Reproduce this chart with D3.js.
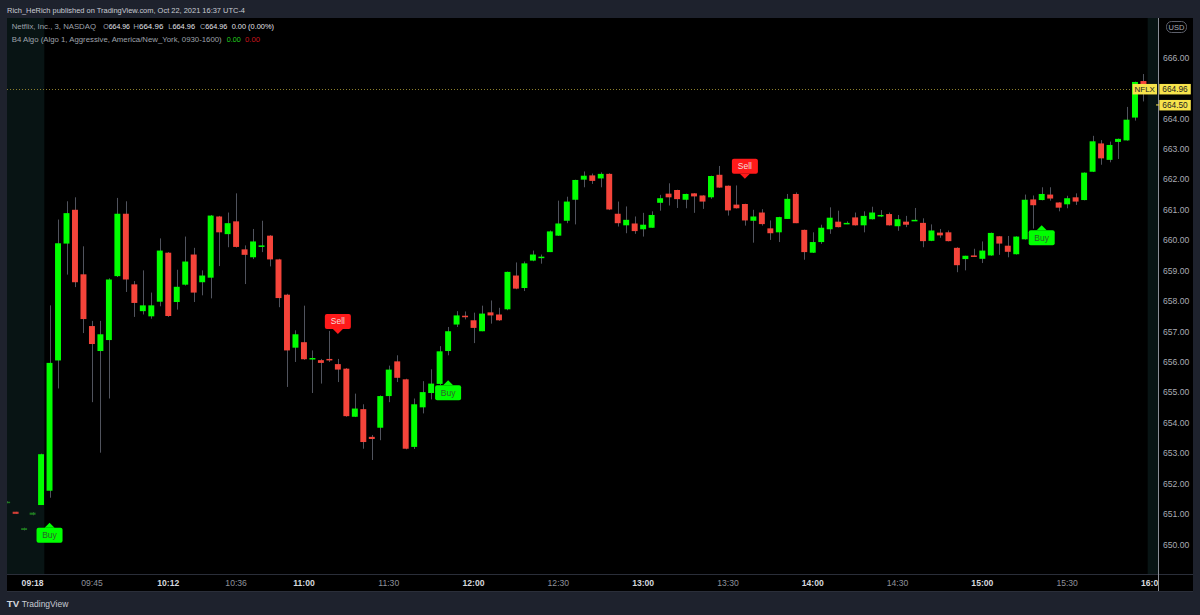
<!DOCTYPE html>
<html><head><meta charset="utf-8">
<script src="https://cdn.jsdelivr.net/npm/d3@7"></script>
<style>body{margin:0;background:#1e222d;}svg{display:block}</style>
</head><body><svg id="c" width="1200" height="615"></svg>
<script>
// ---------- DATA ----------
const premarketTimes = ["08:54","09:06","09:12","09:18","09:27"];
const regularTimes = [];
for (let m = 570; m < 960; m += 3) regularTimes.push(String(Math.floor(m/60)).padStart(2,"0") + ":" + String(m%60).padStart(2,"0"));
const postTimes = ["16:00"];
const times = premarketTimes.concat(regularTimes, postTimes);

const open = [651.37,651.07,650.47,650.97,651.29,
651.76,656.04,659.88,660.99,658.87,657.17,656.35,656.71,658.81,660.86,
658.54,657.66,657.49,657.97,659.58,657.96,658.53,659.52,658.61,658.76,
660.77,660.19,660.61,659.69,659.43,659.77,660.14,659.36,658.20,656.46,
656.64,656.09,656.05,656.09,655.92,655.77,654.19,654.44,653.53,653.83,
654.87,656.01,655.42,653.20,654.50,654.97,655.27,656.35,657.22,657.51,
657.36,657.00,657.62,657.55,657.72,658.83,658.42,659.32,659.43,659.60,
660.14,660.63,661.32,661.98,662.12,662.02,662.17,660.86,660.48,660.54,
660.35,660.40,661.22,661.52,661.64,661.32,661.53,661.46,661.40,662.14,
661.78,661.16,661.18,660.63,660.90,660.38,660.25,660.69,661.51,660.33,
659.58,659.93,660.35,660.60,660.53,660.74,660.48,660.68,660.77,660.85,
660.45,660.60,660.62,660.56,659.97,660.24,660.25,659.74,659.37,659.49,
659.38,659.49,660.12,659.81,659.53,660.02,661.33,661.31,661.49,661.23,
661.17,661.40,661.31,662.24,663.17,662.63,663.22,663.27,664.02,665.22,
664.96];
const high = [651.42,651.07,650.55,651.06,652.98,
657.85,660.67,661.27,661.40,659.79,657.34,657.34,658.74,661.38,661.27,
658.65,659.00,658.27,660.05,659.60,659.02,660.11,659.74,659.00,660.82,
660.79,660.90,661.53,659.82,660.36,660.63,660.16,659.38,658.23,657.03,
657.84,656.37,656.09,657.01,656.09,655.79,654.95,654.60,653.59,654.89,
655.87,656.21,655.44,654.79,655.36,655.75,656.51,657.14,657.66,657.65,
657.61,657.84,658.01,657.77,658.96,659.26,659.29,659.65,659.52,660.31,
661.29,661.42,661.98,662.25,662.18,662.22,662.19,661.26,661.10,660.77,
660.89,660.94,661.48,661.86,661.65,661.52,661.54,661.47,662.11,662.43,
661.79,661.79,661.19,660.99,661.01,660.64,660.76,661.51,661.56,660.34,
660.25,660.50,661.07,660.96,660.61,660.90,660.94,661.09,660.98,660.90,
660.82,660.79,661.05,660.71,660.51,660.36,660.31,659.76,659.48,659.71,
659.95,660.24,660.13,660.13,660.12,661.49,661.46,661.73,661.73,661.24,
661.45,661.53,662.22,663.42,663.28,663.23,663.33,664.37,665.20,665.45,
664.96];
const low = [651.35,651.00,650.45,650.95,651.29,
651.53,655.12,658.86,658.45,656.94,654.67,653.01,654.79,658.78,658.29,
657.47,657.55,657.41,657.82,657.47,657.71,658.50,657.96,658.18,658.08,
659.14,659.76,659.75,658.55,659.37,659.60,659.13,657.79,655.17,655.99,
656.06,654.97,655.28,655.99,655.33,654.19,654.18,653.14,652.77,653.42,
654.67,655.33,653.12,653.13,654.30,654.76,655.23,656.21,657.14,657.39,
656.61,657.00,657.25,657.34,657.69,658.38,658.32,659.30,659.22,659.60,
660.13,660.55,660.51,661.73,661.84,661.73,660.98,660.44,660.22,660.20,
660.11,660.40,660.96,661.13,661.05,661.04,660.89,661.02,661.35,661.71,
660.80,661.03,660.47,659.91,660.47,660.00,659.93,660.69,660.55,659.35,
659.57,659.87,660.20,660.41,660.52,660.47,660.25,660.67,660.75,660.47,
660.30,660.42,660.62,659.76,659.96,660.07,659.95,658.94,659.00,659.44,
659.24,659.48,659.51,659.43,659.52,660.01,660.37,661.30,661.29,660.94,
661.04,661.15,661.30,662.23,662.47,662.55,662.66,663.26,663.92,664.55,
664.96];
const close = [651.40,651.00,650.53,651.04,652.96,
655.96,659.89,660.88,658.61,657.40,656.58,656.90,658.70,660.86,658.70,
657.93,657.85,657.85,659.65,657.50,658.46,659.29,658.27,658.83,660.80,
660.25,660.55,659.77,659.51,659.95,659.82,659.36,658.09,656.37,656.90,
656.08,656.12,655.96,656.05,655.74,654.21,654.46,653.36,653.46,654.87,
655.74,655.47,653.14,654.60,655.00,655.28,656.34,657.00,657.52,657.46,
657.11,657.58,657.52,657.36,658.95,658.40,659.23,659.52,659.45,660.28,
660.54,661.26,661.97,662.11,661.94,662.17,661.00,660.55,660.66,660.29,
660.50,660.82,661.37,661.40,661.34,661.51,661.43,661.26,662.10,661.72,
660.97,661.04,660.64,660.77,660.52,660.22,660.75,661.35,660.55,659.60,
659.93,660.40,660.73,660.42,660.56,660.48,660.79,660.90,660.82,660.48,
660.68,660.50,660.66,659.96,660.31,660.15,659.96,659.17,659.48,659.45,
659.65,660.23,659.88,659.61,660.11,661.32,661.14,661.51,661.36,661.06,
661.37,661.26,662.21,663.24,662.68,663.12,663.32,663.95,665.19,665.09,
664.96];

const buyTimes = ["09:30","11:51","15:21"];
const sellTimes = ["11:12","13:36"];
const priceTicks = [650,651,652,653,654,655,656,657,658,659,660,661,662,663,664,665,666];
const majorTimeTicks = ["09:18","10:12","11:00","12:00","13:00","14:00","15:00","16:00"];
const minorTimeTicks = ["09:45","10:36","11:30","12:30","13:30","14:30","15:30"];
const lastPrice = 664.96;
const indicatorPrice = 664.50;
const symbolName = "NFLX";

// ---------- LAYOUT ----------
const svg = d3.select("#c");
const L = 7, R = 1158, T = 18, B = 574, AXB = 591, FR = 1193;
const FONT = "'Liberation Sans', Arial, sans-serif";

const step = 8.48;
const x = d3.scaleBand().domain(times)
  .range([2.9, 2.9 + step * times.length]).paddingInner(0.3).paddingOuter(0.15);
const y = d3.scaleLinear().domain([650, 666]).range([544.3, 57.3]);
const cx = t => x(t) + x.bandwidth() / 2;

svg.append("rect").attr("width",1200).attr("height",615).attr("fill","#1e222d");
svg.append("rect").attr("x",L).attr("y",T).attr("width",FR-L).attr("height",AXB-T).attr("fill","#000000");

const defs = svg.append("defs");
defs.append("clipPath").attr("id","plot").append("rect").attr("x",L).attr("y",T).attr("width",R-L).attr("height",B-T);
defs.append("clipPath").attr("id","taxis").append("rect").attr("x",L).attr("y",B).attr("width",R-L).attr("height",AXB-B);

// session shading
const slotStart = t => x(t) - x.step()*0.15;
svg.append("rect").attr("x",L).attr("y",T).attr("width",slotStart("09:30")-L - 1).attr("height",B-T).attr("fill","#081414");
svg.append("rect").attr("x",slotStart("16:00")).attr("y",T).attr("width",R-slotStart("16:00")).attr("height",B-T).attr("fill","#081414");

const plot = svg.append("g").attr("clip-path","url(#plot)");

// last price dotted line
plot.append("line").attr("x1",L).attr("x2",1132).attr("y1",Math.round(y(lastPrice))+0.5).attr("y2",Math.round(y(lastPrice))+0.5)
  .attr("stroke","#8c7f2c").attr("stroke-width",1).attr("stroke-dasharray","1,2");

const candles = times.map((t,i)=>({t, o:open[i], h:high[i], l:low[i], c:close[i], pre: premarketTimes.includes(t) && i < 4}));
const GREEN = "#00ff00", RED = "#f5443a";
const cg = plot.append("g");
cg.selectAll("line.w").data(candles).join("line")
  .attr("x1",d=>Math.round(cx(d.t))+0.5).attr("x2",d=>Math.round(cx(d.t))+0.5)
  .attr("y1",d=>y(d.h)).attr("y2",d=>y(d.l))
  .attr("stroke",d=>d.pre?"#3a3d45":"#50535d").attr("stroke-width",1);
cg.selectAll("rect.b").data(candles).join("rect")
  .attr("x",d=>x(d.t)).attr("width",x.bandwidth())
  .attr("y",d=>y(Math.max(d.o,d.c)))
  .attr("height",d=>Math.max(1.5, Math.abs(y(d.o)-y(d.c))))
  .attr("fill",d=>d.c>=d.o?(d.pre?"#1f8a1f":GREEN):RED)
  .attr("opacity",d=>d.pre?0.85:1);

// signals
const sg = plot.append("g");
function signal(t, isBuy){
  const i = times.indexOf(t);
  const xc = cx(t);
  const tip = isBuy ? y(low[i]) + 25 : y(high[i]) - 25;
  const w = 26, h = 15, a = 5;
  const g = sg.append("g");
  const col = isBuy ? "#00ff00" : "#ff1a1a";
  if (isBuy){
    g.append("path").attr("d",`M${xc-5},${tip+a} L${xc},${tip} L${xc+5},${tip+a} Z`).attr("fill",col);
    g.append("rect").attr("x",xc-w/2).attr("y",tip+a).attr("width",w).attr("height",h).attr("rx",2).attr("fill",col);
    g.append("text").attr("x",xc).attr("y",tip+a+h/2+3).attr("text-anchor","middle")
      .attr("font-family",FONT).attr("font-size",8.5).attr("fill","#2f5f2f").text("Buy");
  } else {
    g.append("path").attr("d",`M${xc-5},${tip-a} L${xc},${tip} L${xc+5},${tip-a} Z`).attr("fill",col);
    g.append("rect").attr("x",xc-w/2).attr("y",tip-a-h).attr("width",w).attr("height",h).attr("rx",2).attr("fill",col);
    g.append("text").attr("x",xc).attr("y",tip-a-h/2+3).attr("text-anchor","middle")
      .attr("font-family",FONT).attr("font-size",8.5).attr("fill","#f4dede").text("Sell");
  }
}
buyTimes.forEach(t=>signal(t,true));
sellTimes.forEach(t=>signal(t,false));

// frame lines
svg.append("line").attr("x1",L).attr("x2",FR).attr("y1",B+0.5).attr("y2",B+0.5).attr("stroke","#2a2e39");
svg.append("line").attr("x1",L).attr("x2",FR).attr("y1",AXB+0.5).attr("y2",AXB+0.5).attr("stroke","#2a2e39");
svg.append("line").attr("x1",R+0.5).attr("x2",R+0.5).attr("y1",T).attr("y2",AXB).attr("stroke","#8a8d96");

// price axis
const pa = svg.append("g").attr("transform",`translate(${R},0)`)
  .call(d3.axisRight(y).tickValues(priceTicks).tickFormat(d3.format(".2f")).tickSize(0).tickPadding(5));
pa.select(".domain").remove();
pa.selectAll("text").attr("font-family",FONT).attr("font-size",8.6).attr("fill","#a9acb5").attr("dy","0.33em");

// USD pill
svg.append("rect").attr("x",1166.5).attr("y",21.5).attr("width",20).attr("height",11).attr("rx",5).attr("fill","none").attr("stroke","#5d606b");
svg.append("text").attr("x",1176.5).attr("y",30).attr("text-anchor","middle").attr("font-family",FONT).attr("font-size",7.5).attr("fill","#a9acb5").text("USD");

// time axis
const ta = svg.append("g").attr("clip-path","url(#taxis)");
const tg = ta.append("g").attr("transform",`translate(0,${B})`)
  .call(d3.axisBottom(x).tickValues(majorTimeTicks.concat(minorTimeTicks)).tickSize(0).tickPadding(0));
tg.select(".domain").remove();
tg.selectAll("text").attr("font-family",FONT).attr("font-size",8.6).attr("dy",0).attr("y",12.3)
  .attr("font-weight",d=>majorTimeTicks.includes(d)?"bold":"normal")
  .attr("fill",d=>majorTimeTicks.includes(d)?"#d6d8de":"#8f929b");

// yellow labels
const ly = y(lastPrice);
svg.append("rect").attr("x",1132.5).attr("y",ly-5).attr("width",24.5).attr("height",10.5).attr("fill","#f7e34c");
svg.append("text").attr("x",1144.7).attr("y",ly+3.2).attr("text-anchor","middle").attr("font-family",FONT).attr("font-size",8).attr("fill","#222").text(symbolName);
svg.append("rect").attr("x",1159.3).attr("y",ly-5).attr("width",31.5).attr("height",10.5).attr("fill","#f7e34c");
svg.append("text").attr("x",1175).attr("y",ly+3.2).attr("text-anchor","middle").attr("font-family",FONT).attr("font-size",8.3).attr("fill","#222").text(lastPrice.toFixed(2));
const iy = y(indicatorPrice) + 2;
svg.append("line").attr("x1",1156).attr("x2",1159).attr("y1",iy).attr("y2",iy).attr("stroke","#f7e34c");
svg.append("rect").attr("x",1159.3).attr("y",iy-5).attr("width",31.5).attr("height",10.5).attr("fill","#f7e34c");
svg.append("text").attr("x",1175).attr("y",iy+3.2).attr("text-anchor","middle").attr("font-family",FONT).attr("font-size",8.3).attr("fill","#222").text(indicatorPrice.toFixed(2));

// header texts
function txt(s, x0, x1, yy, fill, fs){
  svg.append("text").attr("x",x0).attr("y",yy).attr("font-family",FONT).attr("font-size",fs||8)
    .attr("fill",fill)
    .attr("textLength",x1-x0).attr("lengthAdjust","spacingAndGlyphs").text(s);
}
txt("Rich_HeRich published on TradingView.com, Oct 22, 2021 16:37 UTC-4", 7, 245, 12.5, "#c9ccd3");
txt("Netflix, Inc., 3, NASDAQ", 11.7, 96, 29.3, "#9fa2ab");
const ohlc = [["O",103.3,130],["H",133.3,163.3],["L",168.3,195],["C",200,227.3]];
ohlc.forEach(([k,a,b])=>{
  const t = svg.append("text").attr("x",a).attr("y",29.3).attr("font-family",FONT).attr("font-size",7.4)
    .attr("textLength",b-a).attr("lengthAdjust","spacingAndGlyphs");
  t.append("tspan").attr("fill","#9fa2ab").text(k);
  t.append("tspan").attr("fill","#e0e3eb").text(lastPrice.toFixed(2));
});
txt("0.00 (0.00%)", 231.7, 274, 29.3, "#e0e3eb", 7.6);
txt("B4 Algo (Algo 1, Aggressive, America/New_York, 0930-1600)", 11.7, 221.7, 41.8, "#9fa2ab");
txt("0.00", 226.7, 240.7, 41.8, "#22d11e", 7.5);
txt("0.00", 245, 260, 41.8, "#c8141c", 7.5);

// footer
svg.append("text").attr("x",6.7).attr("y",607).attr("font-family",FONT).attr("font-size",9).attr("font-weight","bold")
  .attr("fill","#d1d4dc").attr("textLength",12.5).attr("lengthAdjust","spacingAndGlyphs").text("TV");
txt("TradingView", 21.7, 68.3, 607, "#c9ccd3", 8.5);
</script></body></html>
